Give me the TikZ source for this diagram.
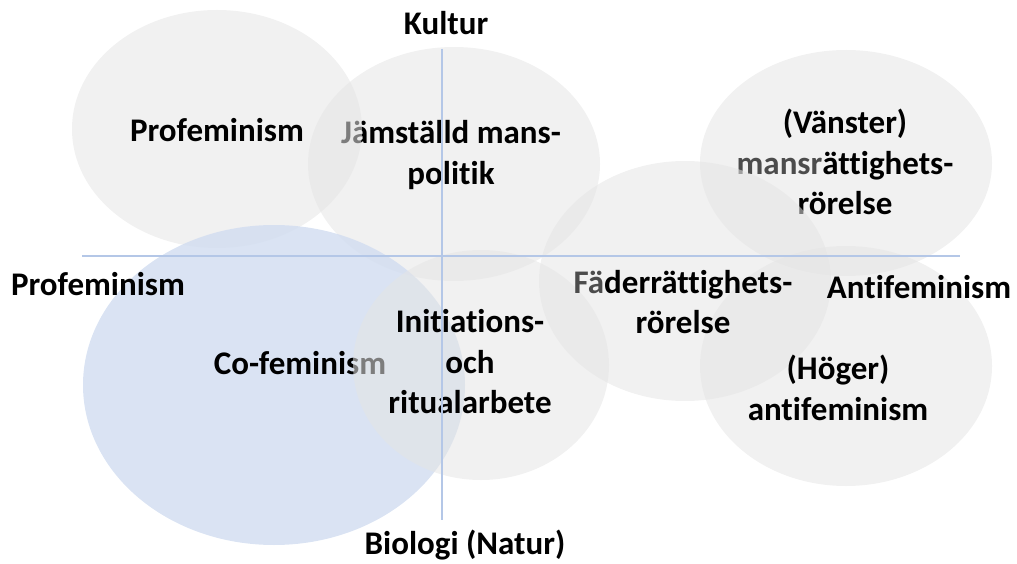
\documentclass[tikz,border=0pt]{standalone}
\usepackage{fontspec}
\setmainfont{Carlito}[Ligatures={NoCommon}]
\usepackage{xcolor}
\usetikzlibrary{shapes.geometric,positioning}
\definecolor{axisblue}{RGB}{180,199,231}
\definecolor{cofem}{RGB}{211,222,241}

\begin{document}
\begin{tikzpicture}[x=1pt, y=-1pt,
        blob/.style={ellipse, draw=none, fill=black!10, fill opacity=0.55, inner sep=0pt},
        bluebob/.style={ellipse, draw=none, fill=cofem, fill opacity=0.85, inner sep=0pt},
        lbl/.style={align=center, font=\fontsize{33}{40.5}\selectfont\bfseries, inner sep=0pt},
        axis/.style={draw=axisblue, line width=1.3pt}
    ]
    \useasboundingbox (0,0) rectangle (1017,564);

    % Upper half
    \node[blob, minimum width=292pt, minimum height=234pt] (e_jam) at (454,164) {};
    \node[lbl] (t_jam) at (451,155) {Jämställd mans-\\politik};

    \node[blob, minimum width=290pt, minimum height=238pt] (e_pro) at (217,129) {};
    \node[lbl] (t_pro) at (217,130) {Profeminism};

    \node[blob, minimum width=292pt, minimum height=226pt] (e_van) at (846,163) {};
    \node[lbl] (t_van) at (845,162) {(Vänster)\\{\color{black!70}mansr}ättighets-\\rörelse};

    % Lower half
    \node[bluebob, minimum width=382pt, minimum height=320pt] (e_cof) at (274,385) {};
    \node[lbl] (t_cof) at (300,363) {Co-feminism};

    \node[blob, minimum width=256pt, minimum height=230pt] (e_ini) at (481,365) {};
    \node[lbl] (t_ini) at (470,362) {Initiations-\\och\\ritualarbete};

    \node[blob, minimum width=292pt, minimum height=240pt] (e_hog) at (846,366) {};

    \node[blob, minimum width=292pt, minimum height=240pt] (e_fad) at (685,281) {};
    \node[lbl] (t_fad) at (683,302) {{\color{black!70}Fä}derrättighets-\\rörelse};

    \node[lbl] (t_hog) at (838,388) {(Höger)\\antifeminism};

    % Axes
    \coordinate (ytop) at (442,49);
    \coordinate (ybot) at (442,520);
    \coordinate (xleft) at (82,256);
    \coordinate (xright) at (960,256);
    \draw[axis] (ytop) -- (ybot);
    \draw[axis] (xleft) -- (xright);

    \node[lbl] (kultur) at (446,23) {Kultur};
    \node[lbl] (biologi) at (465,545) {Biologi (Natur)};
    \node[lbl] (profem) at (98,284) {Profeminism};
    \node[lbl] (antifem) at (919,287) {Antifeminism};

\end{tikzpicture}
\end{document}
